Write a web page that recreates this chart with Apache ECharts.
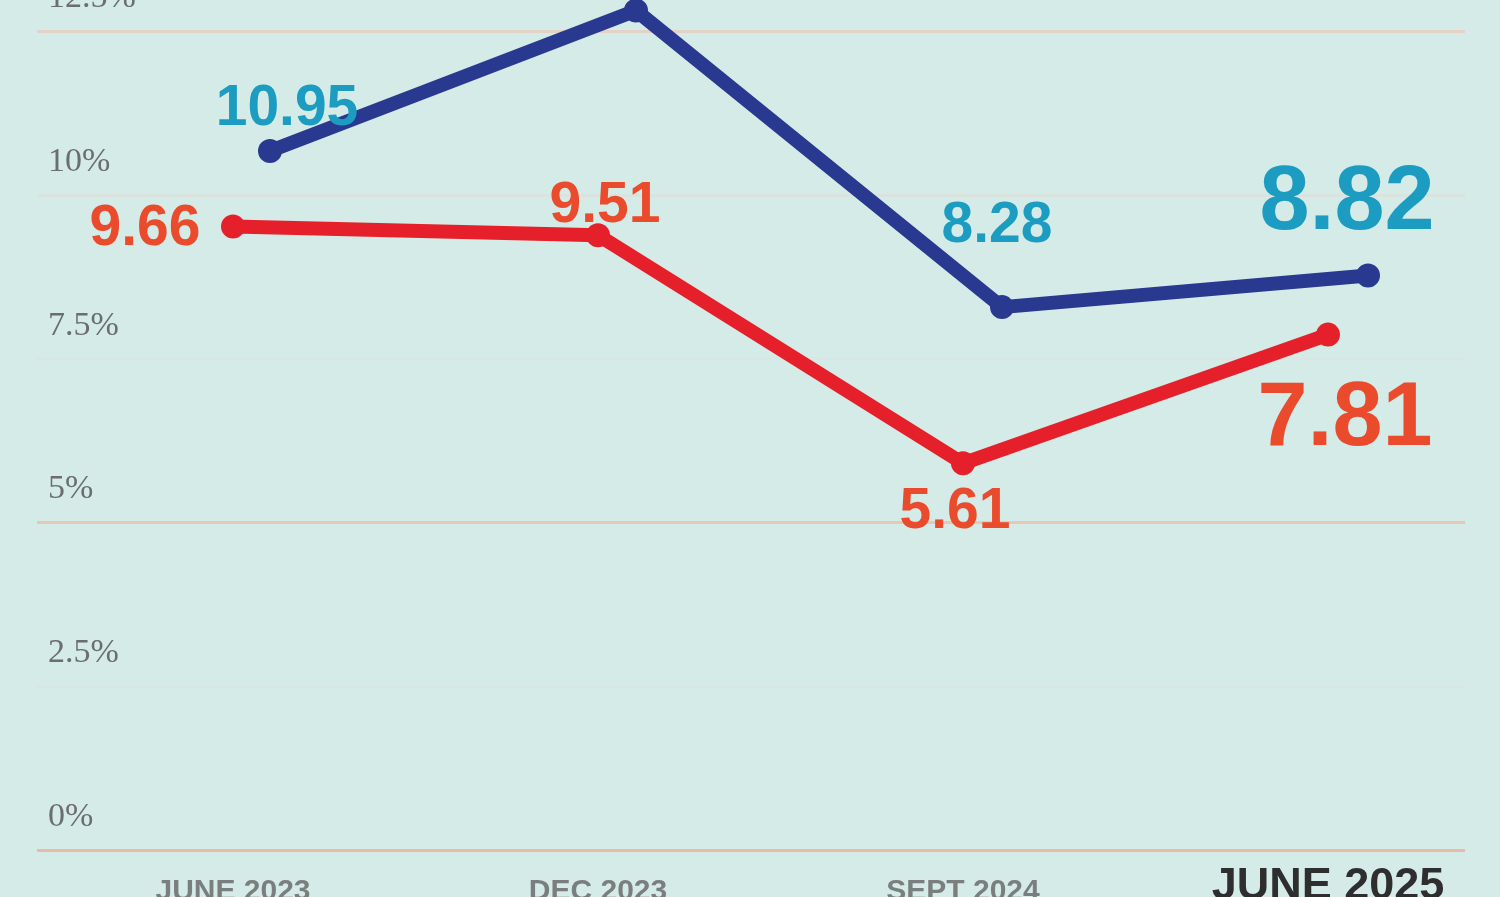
<!DOCTYPE html>
<html>
<head>
<meta charset="utf-8">
<title>Rates</title>
<script src="https://cdn.jsdelivr.net/npm/echarts@6/dist/echarts.min.js"></script>
<style>
  html, body { margin: 0; padding: 0; background: #d5ebe8; }
  #chart { width: 1500px; height: 897px; }
</style>
</head>
<body>
<div id="chart"></div>
<script>
// data
var periods = ["JUNE 2023", "DEC 2023", "SEPT 2024", "JUNE 2025"];
var redValues = [9.66, 9.51, 5.61, 7.81];
var blueValues = [10.95, 13.35, 8.28, 8.82]; // 2nd point is cut off at the top, estimated
var yTicks = ["0%", "2.5%", "5%", "7.5%", "10%", "12.5%"];

// where the value labels sit around each point
var redLabelOffsets = [[-88, 3], [7, -29], [-8, 49], [17, 86]];
var blueLabelOffsets = [[17, -42], null, [-5, -81], [-21, -71]];

var chart = echarts.init(document.getElementById("chart"));

function buildData(values, offsets, color) {
  return values.map(function (v, i) {
    var last = i === values.length - 1;
    if (!offsets[i]) return { value: v, label: { show: false } };
    return {
      value: v,
      label: {
        show: true,
        position: "inside",
        offset: offsets[i],
        color: color,
        fontSize: last ? 90 : 57,
        fontWeight: "bold",
        fontFamily: "Liberation Sans, Arial, sans-serif",
        formatter: "{c}"
      }
    };
  });
}

var option = {
  backgroundColor: "#d5ebe8",
  animation: false,
  grid: [
    // background grid: percent ticks and gridlines
    { left: 37, right: 35, top: 31, bottom: 47, outerBoundsMode: "none" },
    // red line
    { left: 233, right: 172, top: 31, bottom: 47, outerBoundsMode: "none" },
    // blue line, drawn a bit to the right
    { left: 270, right: 132, top: 31, bottom: 47, outerBoundsMode: "none" }
  ],
  xAxis: [
    { gridIndex: 0, type: "category", data: periods, show: false },
    {
      gridIndex: 1,
      type: "category",
      boundaryGap: false,
      data: periods.map(function (p, i) {
        if (i === periods.length - 1) {
          return { value: p, textStyle: { fontSize: 45, fontWeight: "bold", color: "#2e2e2e", lineHeight: 45 } };
        }
        return p;
      }),
      axisLine: { show: false },
      axisTick: { show: false },
      splitLine: { show: false },
      axisLabel: {
        margin: 14,
        color: "#7a7f7e",
        fontSize: 30,
        fontWeight: "bold",
        lineHeight: 56,
        fontFamily: "Liberation Sans Narrow, Liberation Sans, sans-serif"
      }
    },
    { gridIndex: 2, type: "category", boundaryGap: false, data: periods, show: false }
  ],
  yAxis: [
    {
      gridIndex: 0,
      type: "value",
      min: 0,
      max: 12.5,
      interval: 2.5,
      axisLine: { show: false },
      axisTick: { show: false },
      splitLine: {
        lineStyle: {
          width: 3,
          color: ["#e6bda4", "#d9e6e2", "#e8c7b4", "#d9e6e2", "#dbe3de", "#e4d2c6"]
        }
      },
      axisLabel: {
        inside: true,
        margin: 11,
        align: "left",
        verticalAlign: "bottom",
        padding: [0, 0, 16, 0],
        color: "#6a6e6c",
        fontSize: 34,
        fontFamily: "Liberation Serif, DejaVu Serif, serif",
        formatter: function (v) {
          return yTicks[Math.round(v / 2.5)];
        }
      }
    },
    { gridIndex: 1, type: "value", min: -1, max: 13, show: false, splitLine: { show: false } },
    { gridIndex: 2, type: "value", min: -1, max: 13, show: false, splitLine: { show: false } }
  ],
  series: [
    {
      name: "red",
      type: "line",
      xAxisIndex: 1,
      yAxisIndex: 1,
      clip: false,
      symbol: "circle",
      symbolSize: 24,
      lineStyle: { color: "#e5202a", width: 14 },
      itemStyle: { color: "#e5202a" },
      data: buildData(redValues, redLabelOffsets, "#ea4b2d")
    },
    {
      name: "blue",
      type: "line",
      xAxisIndex: 2,
      yAxisIndex: 2,
      clip: false,
      symbol: "circle",
      symbolSize: 24,
      lineStyle: { color: "#2a3990", width: 14 },
      itemStyle: { color: "#2a3990" },
      data: buildData(blueValues, blueLabelOffsets, "#1d9cc1")
    }
  ]
};

chart.setOption(option);
</script>
</body>
</html>
